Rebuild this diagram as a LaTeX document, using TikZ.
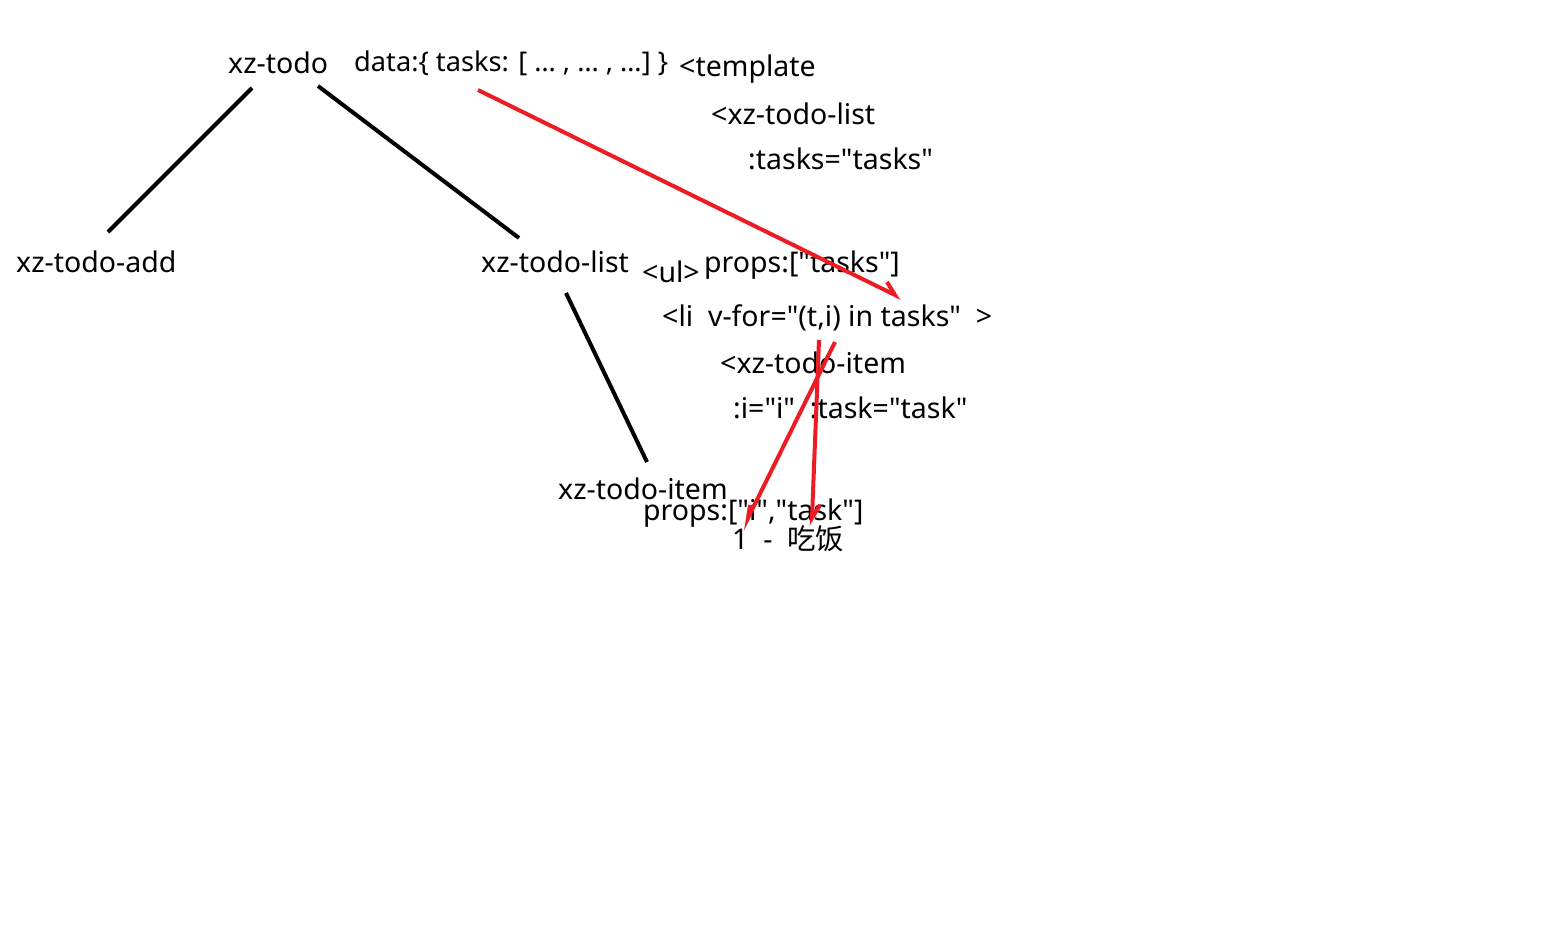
\documentclass[tikz,border=0pt]{standalone}
\usepackage{fontspec}
\setmainfont{Noto Sans}[Ligatures=TeXOff]
\newfontfamily\cjkfont{Noto Sans CJK SC}
\definecolor{paintred}{HTML}{ED1C24}
\begin{document}
\begin{tikzpicture}[x=1pt,y=-1pt,
  lbl/.style={anchor=west,inner sep=0pt,font=\fontsize{28.5}{32}\selectfont},
  blk/.style={line width=4pt,black},
  redl/.style={line width=4pt,paintred}]
\useasboundingbox[fill=white] (0,0) rectangle (1550,948);
\node[lbl] (todo) at (228,63) {xz-todo};
\node[lbl,font=\fontsize{27.2}{32}\selectfont] (data) at (354,63) {data:\{ tasks: [ … , … , …] \}};
\node[lbl] (tpl) at (679,69) {<template};
\node[lbl] (tl) at (711,114) {<xz-todo-list};
\node[lbl] (tt) at (748,159) {:tasks="tasks"};
\node[lbl] (add) at (16,262) {xz-todo-add};
\node[lbl] (list) at (481,262) {xz-todo-list};
\node[lbl] (ul) at (642,272) {<ul>};
\node[lbl] (pt) at (704,265) {props:["tasks"]};
\node[lbl] (li) at (662,318) {<li\ \ v-for="(t,i) in tasks"\ \ >};
\node[lbl] (ti) at (720,363) {<xz-todo-item};
\node[lbl] (it) at (733,408) {:i="i"\ \ :task="task"};
\node[lbl] (item) at (558,489) {xz-todo-item};
\node[lbl] (pit) at (643,513) {props:["i","task"]};
\node[lbl] (eat) at (732,539) {1\ \ -\ \ {\cjkfont 吃饭}};
\coordinate (a1) at (252,88); \coordinate (a2) at (108,232);
\coordinate (b1) at (318,86); \coordinate (b2) at (519,238);
\coordinate (c1) at (566,293); \coordinate (c2) at (647,462);
\draw[blk] (a1) -- (a2);
\draw[blk] (b1) -- (b2);
\draw[blk] (c1) -- (c2);
\coordinate (r1) at (478,90); \coordinate (r2) at (895,295); \coordinate (r2h) at (887,282);
\coordinate (s1) at (835,342); \coordinate (s2) at (748,518); \coordinate (s2h) at (750,505);
\coordinate (u1) at (819,340); \coordinate (u2) at (812,518); \coordinate (u2h) at (820,505);
\draw[redl] (r1) -- (r2) -- (r2h);
\draw[redl] (s1) -- (s2) -- (s2h);
\draw[redl] (u1) -- (u2) -- (u2h);
\end{tikzpicture}
\end{document}
